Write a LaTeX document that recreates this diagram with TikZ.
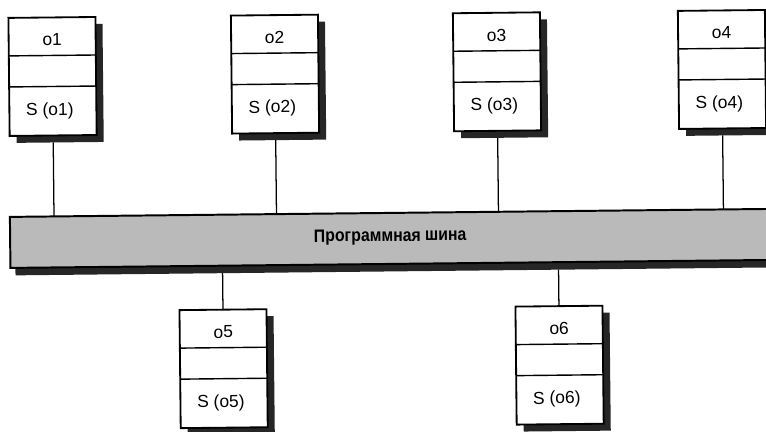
\documentclass[tikz,border=0pt]{standalone}
\usepackage{fontspec}
\setmainfont{Liberation Sans}
\newfontfamily\busfont{Liberation Sans}[FakeStretch=0.88]
\usepackage{tikz}
\usetikzlibrary{calc}
\colorlet{busc}{black!27}
\colorlet{shadc}{black!85}

\begin{document}
\begin{tikzpicture}[x=0.025cm,y=-0.025cm,
  obj/.style={draw,line width=1.3pt,fill=white,minimum width=2.175cm,minimum height=2.95cm,inner sep=0pt,outer sep=0pt},
  objsh/.style={fill=shadc,minimum width=2.175cm,minimum height=2.95cm,inner sep=0pt,outer sep=0pt},
  busbar/.style={draw,line width=1.4pt,fill=busc,minimum width=19.5cm,minimum height=1.275cm,inner sep=0pt,outer sep=0pt},
  bussh/.style={fill=shadc,minimum width=19.5cm,minimum height=1.275cm,inner sep=0pt,outer sep=0pt},
  lbl/.style={font=\fontsize{12.4}{14}\selectfont,inner sep=0pt},
  sep/.style={line width=1pt}]
\clip (0,0) rectangle (766,432);
\begin{scope}[rotate around={0.6:(383,216)},transform shape]
% bus
\node[bussh] (bus-sh) at (405,246) {};
\node[busbar] (bus) at (400,238.5) {};
\node[font=\busfont\bfseries\fontsize{12.8}{15}\selectfont,inner sep=0pt] (bus-name) at (390,237) {Программная шина};

% objects above the bus
\foreach \n/\x in {o1/54,o2/276.5,o3/498.5,o4/723.5}{
  \node[objsh] (\n-sh) at ({\x+7},80) {};
  \node[obj] (\n) at (\x,73) {};
  \draw[sep] ($(\n.north west)!0.322!(\n.south west)$) -- ($(\n.north east)!0.322!(\n.south east)$);
  \draw[sep] ($(\n.north west)!0.585!(\n.south west)$) -- ($(\n.north east)!0.585!(\n.south east)$);
  \node[lbl] (\n-name) at ($(\n.north)!0.19!(\n.south)$) {\n};
  \node[lbl] (\n-set) at ($(\n.north)!0.79!(\n.south)+(-3,0)$) {S (\n)};
  \draw[line width=0.9pt] (\n.south |- \n-sh.south) -- (\n.south |- bus.north);
}

% objects below the bus
\foreach \n/\x in {o5/222,o6/558}{
  \node[objsh] (\n-sh) at ({\x+7},374) {};
  \node[obj] (\n) at (\x,367) {};
  \draw[sep] ($(\n.north west)!0.322!(\n.south west)$) -- ($(\n.north east)!0.322!(\n.south east)$);
  \draw[sep] ($(\n.north west)!0.585!(\n.south west)$) -- ($(\n.north east)!0.585!(\n.south east)$);
  \node[lbl] (\n-name) at ($(\n.north)!0.19!(\n.south)$) {\n};
  \node[lbl] (\n-set) at ($(\n.north)!0.79!(\n.south)+(-3,0)$) {S (\n)};
  \draw[line width=0.9pt] (\n.north) -- (\n.north |- bus-sh.south);
}
\end{scope}
\end{tikzpicture}
\end{document}
